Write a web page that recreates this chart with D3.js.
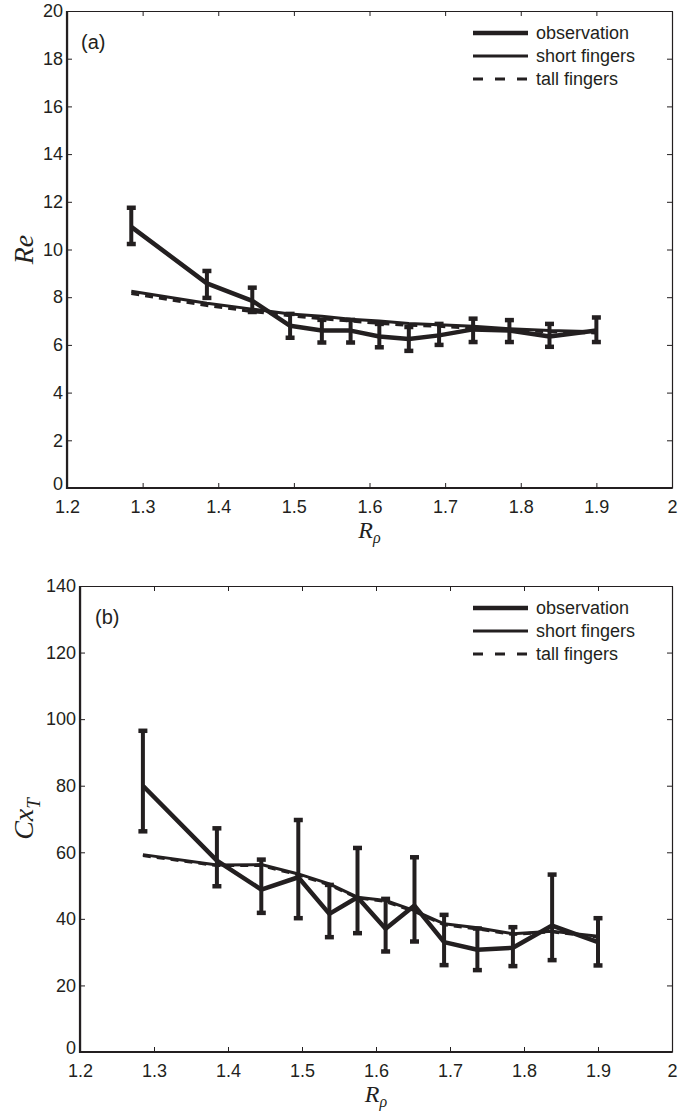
<!DOCTYPE html>
<html>
<head>
<meta charset="utf-8">
<style>
body { margin:0; background:#fff; }
svg text { fill:#231f20; }
</style>
</head>
<body>
<svg id="chart" width="679" height="1113"></svg>
<script src="https://cdn.jsdelivr.net/npm/d3@7"></script>
<script>
// density ratio values shared by both panels
var rrho = [1.285, 1.385, 1.445, 1.495, 1.537, 1.575, 1.613, 1.652, 1.692, 1.737, 1.785, 1.838, 1.9];

// panel (a): Re
var reObs   = [10.95, 8.58, 7.85, 6.8, 6.6, 6.6, 6.35, 6.25, 6.4, 6.65, 6.6, 6.35, 6.6];
var reLo    = [10.23, 7.97, 7.38, 6.3, 6.1, 6.1, 5.9, 5.75, 6.0, 6.12, 6.12, 5.92, 6.12];
var reHi    = [11.75, 9.1, 8.4, 7.3, 7.05, 7.05, 6.88, 6.75, 6.88, 7.1, 7.04, 6.88, 7.15];
var reShort = [8.25, 7.75, 7.5, 7.3, 7.2, 7.08, 7.0, 6.9, 6.85, 6.78, 6.68, 6.6, 6.55];
var reTall  = [8.15, 7.65, 7.4, 7.22, 7.1, 7.0, 6.9, 6.82, 6.78, 6.7, 6.62, 6.55, 6.5];

// panel (b): Cx_T
var cxObs   = [80, 57.5, 48.8, 52.5, 41.5, 46.5, 37, 44, 33, 30.7, 31.3, 38, 33];
var cxLo    = [66.3, 49.8, 41.8, 40.2, 34.5, 35.7, 30.2, 33.2, 26.1, 24.6, 25.8, 27.6, 26];
var cxHi    = [96.5, 67.2, 57.8, 69.7, 50.2, 61.3, 46, 58.5, 41.2, 37.1, 37.5, 53.3, 40.2];
var cxShort = [59.3, 56.2, 56.3, 53.5, 50.5, 46.5, 45.5, 42.5, 38.5, 37.3, 35.5, 36.3, 34.8];
var cxTall  = [59.0, 56.0, 56.0, 53.2, 50.2, 46.3, 45.2, 42.2, 38.2, 37.0, 35.3, 36.1, 34.5];

var xTicks = [1.2, 1.3, 1.4, 1.5, 1.6, 1.7, 1.8, 1.9, 2];
var reTicks = [0, 2, 4, 6, 8, 10, 12, 14, 16, 18, 20];
var cxTicks = [0, 20, 40, 60, 80, 100, 120, 140];
var legendNames = ["observation", "short fingers", "tall fingers"];

var ink = "#231f20";
var svg = d3.select("#chart");

function panel(o) {
  var x = d3.scaleLinear().domain([1.2, 2]).range([o.left, o.right]);
  var y = d3.scaleLinear().domain([0, o.ymax]).range([o.bottom, o.top]);
  var g = svg.append("g");

  var fmt = d3.format("");
  g.append("g").attr("transform", "translate(0," + o.bottom + ")")
    .call(d3.axisBottom(x).tickValues(xTicks).tickFormat(fmt).tickSizeInner(-5).tickSizeOuter(0).tickPadding(12));
  g.append("g").attr("transform", "translate(0," + o.top + ")")
    .call(d3.axisTop(x).tickValues(xTicks).tickFormat("").tickSizeInner(-5).tickSizeOuter(0));
  var yax = g.append("g").attr("transform", "translate(" + o.left + ",0)")
    .call(d3.axisLeft(y).tickValues(o.yTicks).tickSizeInner(-5).tickSizeOuter(0).tickPadding(4));
  g.append("g").attr("transform", "translate(" + o.right + ",0)")
    .call(d3.axisRight(y).tickValues(o.yTicks).tickFormat("").tickSizeInner(-5).tickSizeOuter(0));

  g.selectAll(".tick line").attr("stroke", ink).attr("stroke-width", 1);
  g.selectAll(".domain").attr("stroke", ink).attr("stroke-width", 1.2);
  g.selectAll(".tick text").attr("fill", ink)
    .style("font-family", "'Liberation Sans', Arial, sans-serif").style("font-size", "18px");
  // the 0 label sits just above the 1.2 label
  yax.selectAll(".tick text").filter(function(d) { return d === 0; }).attr("dy", "0.1em");

  // thicker left and bottom spines
  g.append("line").attr("x1", o.left).attr("x2", o.left).attr("y1", o.top).attr("y2", o.bottom + 1)
    .attr("stroke", ink).attr("stroke-width", 2.2);
  g.append("line").attr("x1", o.left - 1).attr("x2", o.right).attr("y1", o.bottom).attr("y2", o.bottom)
    .attr("stroke", ink).attr("stroke-width", 2.2);

  var line = function(vals) {
    return d3.line().x(function(d, i) { return x(rrho[i]); }).y(function(d) { return y(d); })(vals);
  };

  g.append("path").attr("d", line(o.tall)).attr("fill", "none").attr("stroke", ink)
    .attr("stroke-width", 3).attr("stroke-dasharray", "8,6");
  g.append("path").attr("d", line(o.short)).attr("fill", "none").attr("stroke", ink)
    .attr("stroke-width", 3);
  g.append("path").attr("d", line(o.obs)).attr("fill", "none").attr("stroke", ink)
    .attr("stroke-width", 4.5).attr("stroke-linejoin", "round");

  // error bars
  var eb = g.selectAll(".eb").data(rrho).enter().append("g");
  eb.append("line")
    .attr("x1", function(d) { return x(d); }).attr("x2", function(d) { return x(d); })
    .attr("y1", function(d, i) { return y(o.lo[i]); }).attr("y2", function(d, i) { return y(o.hi[i]); })
    .attr("stroke", ink).attr("stroke-width", 4);
  eb.append("line")
    .attr("x1", function(d) { return x(d) - 4.5; }).attr("x2", function(d) { return x(d) + 4.5; })
    .attr("y1", function(d, i) { return y(o.lo[i]); }).attr("y2", function(d, i) { return y(o.lo[i]); })
    .attr("stroke", ink).attr("stroke-width", 4.5);
  eb.append("line")
    .attr("x1", function(d) { return x(d) - 4.5; }).attr("x2", function(d) { return x(d) + 4.5; })
    .attr("y1", function(d, i) { return y(o.hi[i]); }).attr("y2", function(d, i) { return y(o.hi[i]); })
    .attr("stroke", ink).attr("stroke-width", 4.5);

  // panel letter
  g.append("text").attr("x", o.left + o.letterDx).attr("y", o.top + 38)
    .style("font-family", "'Liberation Sans', Arial, sans-serif").style("font-size", "20px")
    .text(o.letter);

  // legend
  var lx = 473, ly = o.top + 22;
  var styles = [{w: 4.5, dash: null}, {w: 3, dash: null}, {w: 3, dash: "10,12"}];
  legendNames.forEach(function(name, i) {
    var yy = ly + i * 23;
    var l = g.append("line").attr("x1", lx).attr("x2", lx + 55).attr("y1", yy).attr("y2", yy)
      .attr("stroke", ink).attr("stroke-width", styles[i].w);
    if (styles[i].dash) l.attr("stroke-dasharray", styles[i].dash);
    g.append("text").attr("x", lx + 63).attr("y", yy + 6)
      .style("font-family", "'Liberation Sans', Arial, sans-serif").style("font-size", "18px")
      .text(name);
  });

  // x label R_rho
  var xl = g.append("text").attr("x", (o.left + o.right) / 2).attr("y", o.bottom + 50)
    .attr("text-anchor", "middle")
    .style("font-family", "'Liberation Serif', 'Times New Roman', serif").style("font-style", "italic").style("font-size", "24px");
  xl.append("tspan").text("R");
  xl.append("tspan").attr("dy", 5).style("font-size", "16px").text("ρ");

  // y label
  var yl = g.append("text")
    .attr("transform", "translate(" + 33 + "," + ((o.top + o.bottom) / 2) + ") rotate(-90)")
    .attr("text-anchor", "middle")
    .style("font-family", "'Liberation Serif', 'Times New Roman', serif").style("font-style", "italic").style("font-size", "28px");
  o.ylabel(yl);
}

panel({
  left: 67, right: 672, top: 11, bottom: 488, ymax: 20, yTicks: reTicks,
  obs: reObs, lo: reLo, hi: reHi, short: reShort, tall: reTall,
  letter: "(a)", letterDx: 14,
  ylabel: function(t) { t.text("Re"); }
});

panel({
  left: 80, right: 672, top: 586, bottom: 1052, ymax: 140, yTicks: cxTicks,
  obs: cxObs, lo: cxLo, hi: cxHi, short: cxShort, tall: cxTall,
  letter: "(b)", letterDx: 15,
  ylabel: function(t) {
    t.append("tspan").text("Cx");
    t.append("tspan").attr("dy", 7).style("font-size", "19px").text("T");
  }
});
</script>
</body>
</html>
